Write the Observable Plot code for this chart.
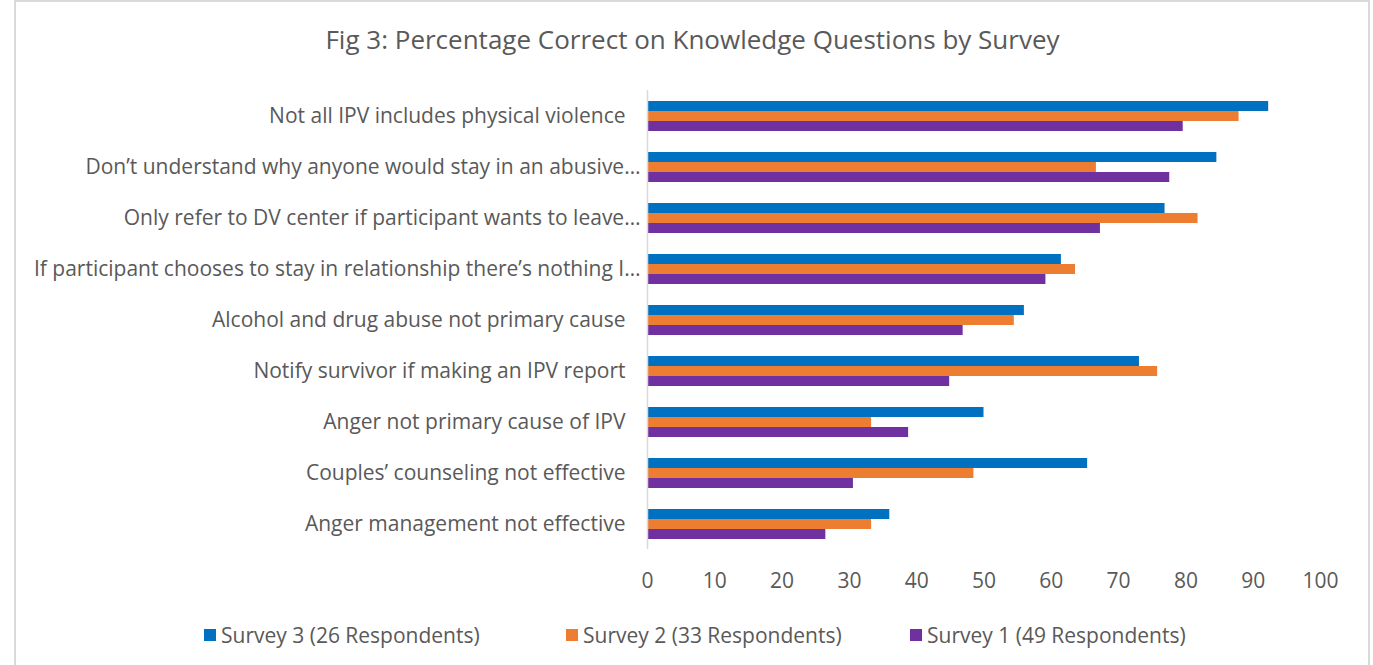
<!DOCTYPE html>
<html>
<head>
<meta charset="utf-8">
<script src="https://cdn.jsdelivr.net/npm/d3@7"></script>
<script src="https://cdn.jsdelivr.net/npm/@observablehq/plot@0.6"></script>
<style>
  html, body { margin: 0; padding: 0; background: #fff; }
  body { width: 1373px; height: 665px; position: relative; overflow: hidden; font-family: "Open Sans", sans-serif; }
  #frame { position: absolute; left: 14px; top: 0; width: 1356px; height: 700px; border: 2px solid #d9d9d9; box-sizing: border-box; }
  #title { position: absolute; left: 16px; width: 1353px; top: 21px; text-align: center; font-size: 26px; color: #595959; line-height: 36px; }
  #chart { position: absolute; left: 0; top: 80px; }
  #legend { position: absolute; top: 621px; left: 0; width: 1373px; height: 28px; font-size: 21px; color: #595959; }
  .item { position: absolute; top: 0; display: flex; align-items: center; height: 28px; white-space: nowrap; }
  .sw { width: 12px; height: 12px; margin-right: 5px; }
</style>
</head>
<body>
<div id="frame"></div>
<div id="title">Fig 3: Percentage Correct on Knowledge Questions by Survey</div>
<div id="chart"></div>
<div id="legend"></div>
<script>
const categories = [
  "Not all IPV includes physical violence",
  "Don’t understand why anyone would stay in an abusive…",
  "Only refer to DV center if participant wants to leave…",
  "If participant chooses to stay in relationship there’s nothing I…",
  "Alcohol and drug abuse not primary cause",
  "Notify survivor if making an IPV report",
  "Anger not primary cause of IPV",
  "Couples’ counseling not effective",
  "Anger management not effective"
];
const seriesNames = ["Survey 3 (26 Respondents)", "Survey 2 (33 Respondents)", "Survey 1 (49 Respondents)"];
const seriesColors = ["#0070C0", "#ED7D31", "#7030A0"];
const survey3 = [92.3, 84.6, 76.9, 61.5, 56.0, 73.1, 50.0, 65.4, 36.0];
const survey2 = [87.9, 66.7, 81.8, 63.6, 54.5, 75.8, 33.3, 48.5, 33.3];
const survey1 = [79.6, 77.6, 67.3, 59.2, 46.9, 44.9, 38.8, 30.6, 26.5];
const xTicks = [0, 10, 20, 30, 40, 50, 60, 70, 80, 90, 100];
const legendX = [204, 566, 910];

const seriesValues = [survey3, survey2, survey1];
const data = categories.flatMap((c, i) =>
  seriesNames.map((s, j) => ({category: c, series: s, value: seriesValues[j][i]}))
);
const isTruncated = (c) => c.endsWith("…");

const chart = Plot.plot({
  width: 1373,
  height: 520,
  marginLeft: 647,
  marginRight: 53,
  marginTop: 8,
  marginBottom: 50,
  style: {fontFamily: "Open Sans, sans-serif", fontSize: "21px", color: "#595959", background: "transparent"},
  x: {domain: [0, 100], ticks: xTicks, tickSize: 0, tickPadding: 24, label: null},
  fy: {domain: categories, padding: 0, label: null, axis: null},
  y: {domain: seriesNames, axis: null, paddingInner: 0, paddingOuter: 1},
  color: {domain: seriesNames, range: seriesColors},
  marks: [
    Plot.axisFy({anchor: "left", tickSize: 0, tickPadding: 22, label: null, tickFormat: (c) => isTruncated(c) ? "" : c}),
    Plot.axisFy({anchor: "left", tickSize: 0, tickPadding: 7, label: null, tickFormat: (c) => isTruncated(c) ? c : ""}),
    Plot.barX(data, {x: "value", y: "series", fy: "category", fill: "series"}),
    Plot.ruleX([0], {stroke: "#d9d9d9", strokeWidth: 1.5})
  ]
});
document.getElementById("chart").appendChild(chart);

const legend = document.getElementById("legend");
seriesNames.forEach((s, i) => {
  const item = document.createElement("div");
  item.className = "item";
  item.style.left = legendX[i] + "px";
  const sw = document.createElement("span");
  sw.className = "sw";
  sw.style.background = seriesColors[i];
  const t = document.createElement("span");
  t.textContent = s;
  item.appendChild(sw);
  item.appendChild(t);
  legend.appendChild(item);
});
</script>
</body>
</html>
